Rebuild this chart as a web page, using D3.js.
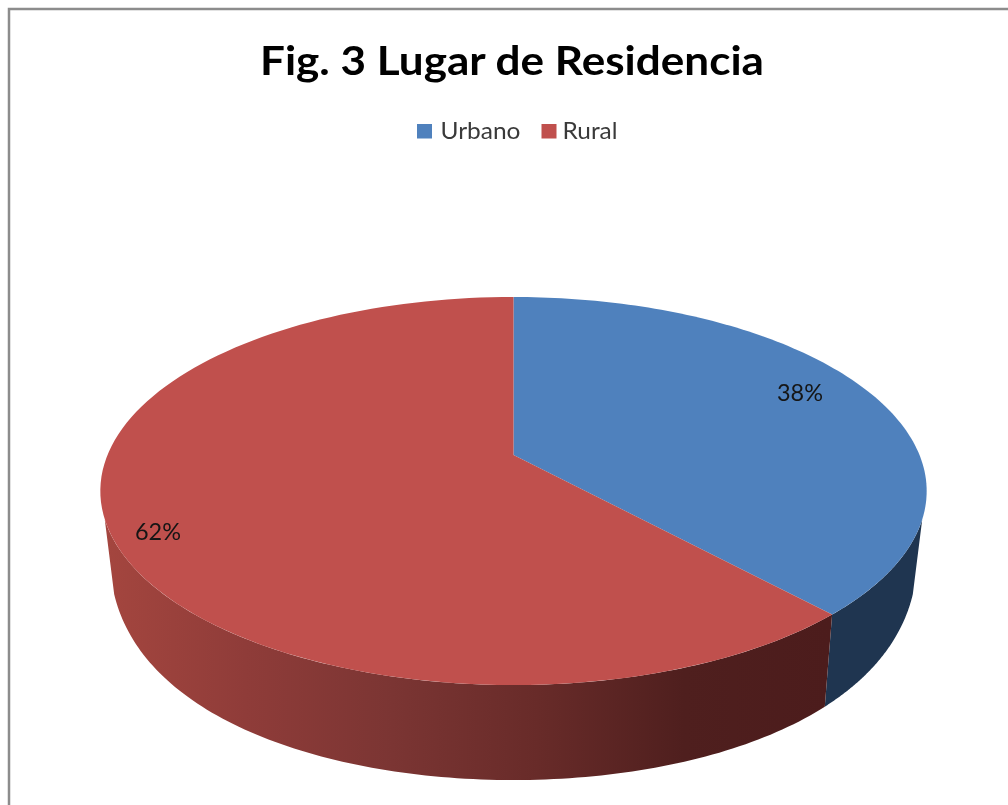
<!DOCTYPE html>
<html>
<head>
<meta charset="utf-8">
<script src="https://cdn.jsdelivr.net/npm/d3@7/dist/d3.min.js"></script>
<style>
html,body{margin:0;padding:0;background:#fff;overflow:hidden}
svg{display:block;filter:blur(0.5px)}
text{font-family:Lato,"Open Sans",sans-serif}
</style>
</head>
<body>
<svg id="c" width="1008" height="805"></svg>
<script>
const categories = ["Urbano", "Rural"];
const seriesValues = [38.15, 61.85];
const percentLabels = ["38%", "62%"];
const title = "Fig. 3 Lugar de Residencia";
const topColors = ["#4f81bd", "#c0504d"];
const sideColors = ["#1f3550", "url(#redSide)"];

const svg = d3.select("#c");
const cx = 513.5, R = 406, persp = -0.1856, apexY = 455, tilt = 102.9;
const shrink = 0.977;

function topPoint(theta) {
  const u = Math.sin(theta), v = -Math.cos(theta), w = 1 + persp * v;
  return [cx + R * u / w, (apexY + tilt * v) / w];
}
function wallDrop(v) {
  return 95 + 11.1 * (v - 1) - 45.9 * (v - 1) * (v - 0.73);
}
function bottomPoint(theta) {
  const p = topPoint(theta);
  return [cx + (p[0] - cx) * shrink, p[1] + wallDrop(-Math.cos(theta))];
}
const line = d3.line();
const arcPts = (a0, a1, f) => d3.range(0, 121).map(i => f(a0 + (a1 - a0) * i / 120));

const defs = svg.append("defs");
const grad = defs.append("linearGradient").attr("id", "redSide")
  .attr("gradientUnits", "userSpaceOnUse")
  .attr("x1", 100).attr("x2", 830).attr("y1", 0).attr("y2", 0);
[[0, "#a5463f"], [0.2, "#8f3c39"], [0.4, "#7b3533"], [0.6, "#682b29"], [0.8, "#4f1f1e"], [1, "#4c1c1c"]]
  .forEach(s => grad.append("stop").attr("offset", s[0]).attr("stop-color", s[1]));

// chart frame
svg.append("path").attr("d", "M9,806V9H1009").attr("fill", "none")
  .attr("stroke", "#8c8c8c").attr("stroke-width", 2.5);

const pie = d3.pie().sort(null).startAngle(0).endAngle(2 * Math.PI);
const arcs = pie(seriesValues);
const tangent = 1.9; // angle where the wall's silhouette leaves the rim

// walls: visible between the right and left silhouette
arcs.forEach((d, i) => {
  const a0 = Math.max(d.startAngle, tangent);
  const a1 = Math.min(d.endAngle, 2 * Math.PI - tangent);
  const pts = arcPts(a0, a1, topPoint).concat(arcPts(a1, a0, bottomPoint));
  svg.append("path").attr("d", line(pts) + "Z").attr("fill", sideColors[i]);
});
// top faces
arcs.forEach((d, i) => {
  const pts = [[cx, apexY]].concat(arcPts(d.startAngle, d.endAngle, topPoint));
  svg.append("path").attr("d", line(pts) + "Z").attr("fill", topColors[i]);
});

// text stretched to the measured run length, as in the reference's wider face
function stretched(x, y, size, width, fill, weight, str) {
  return svg.append("text").attr("x", x).attr("y", y)
    .attr("font-size", size).attr("font-weight", weight).attr("fill", fill)
    .attr("textLength", width).attr("lengthAdjust", "spacingAndGlyphs").text(str);
}

// title
stretched(260, 75, 40, 504, "#000", 700, title);

// legend
const swatchX = [417, 541.5], labelX = [440.5, 562.5], labelW = [80, 55];
categories.forEach((c, i) => {
  svg.append("rect").attr("x", swatchX[i]).attr("y", 124).attr("width", 15).attr("height", 14.5)
    .attr("fill", topColors[i]);
  stretched(labelX[i], 139, 23.5, labelW[i], "#3a3a3a", 400, c);
});

// percentage labels
const labelAt = [[777, 401], [135, 540]];
percentLabels.forEach((t, i) => {
  stretched(labelAt[i][0], labelAt[i][1], 22.5, 46, "#151515", 400, t);
});
</script>
</body>
</html>
